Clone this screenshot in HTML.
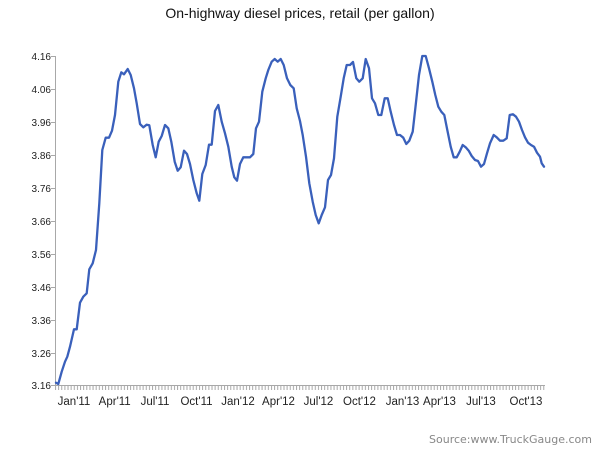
<!DOCTYPE html>
<html>
<head>
<meta charset="utf-8">
<style>
  html, body { margin: 0; padding: 0; background: #fff; }
  svg { display: block; }
</style>
</head>
<body>
<svg width="600" height="450" viewBox="0 0 600 450" xmlns="http://www.w3.org/2000/svg">
  <defs>
    <pattern id="ticks" x="55" y="0" width="3.13" height="450" patternUnits="userSpaceOnUse">
      <rect x="0" y="0" width="1" height="450" fill="#a8a8a8"/>
    </pattern>
  </defs>
  <rect x="0" y="0" width="600" height="450" fill="#fff"/>

  <text x="300" y="18" text-anchor="middle" font-family="Liberation Sans, Arial, sans-serif" font-size="14" fill="#111">On-highway diesel prices, retail (per gallon)</text>

  <!-- Y axis -->
  <line x1="55.5" y1="56" x2="55.5" y2="386" stroke="#a8a8a8" stroke-width="1"/>
  <g stroke="#a8a8a8" stroke-width="1">
    <line x1="51" y1="56.5" x2="55" y2="56.5"/>
    <line x1="51" y1="89.5" x2="55" y2="89.5"/>
    <line x1="51" y1="122.5" x2="55" y2="122.5"/>
    <line x1="51" y1="155.5" x2="55" y2="155.5"/>
    <line x1="51" y1="188.5" x2="55" y2="188.5"/>
    <line x1="51" y1="221.5" x2="55" y2="221.5"/>
    <line x1="51" y1="254.5" x2="55" y2="254.5"/>
    <line x1="51" y1="287.5" x2="55" y2="287.5"/>
    <line x1="51" y1="320.5" x2="55" y2="320.5"/>
    <line x1="51" y1="353.5" x2="55" y2="353.5"/>
    <line x1="51" y1="385.5" x2="55" y2="385.5"/>
  </g>
  <g font-family="Liberation Sans, Arial, sans-serif" font-size="10" fill="#222" text-anchor="end">
    <text x="51" y="60">4.16</text>
    <text x="51" y="93">4.06</text>
    <text x="51" y="126">3.96</text>
    <text x="51" y="159">3.86</text>
    <text x="51" y="192">3.76</text>
    <text x="51" y="225">3.66</text>
    <text x="51" y="258">3.56</text>
    <text x="51" y="291">3.46</text>
    <text x="51" y="324">3.36</text>
    <text x="51" y="357">3.26</text>
    <text x="51" y="389">3.16</text>
  </g>

  <!-- X axis -->
  <line x1="55" y1="385.5" x2="545" y2="385.5" stroke="#a8a8a8" stroke-width="1"/>
  <rect x="55" y="385" width="490" height="5" fill="url(#ticks)"/>
  <g font-family="Liberation Sans, Arial, sans-serif" font-size="11.5" fill="#222" text-anchor="middle">
    <text x="74" y="405">Jan'11</text>
    <text x="114.7" y="405">Apr'11</text>
    <text x="155" y="405">Jul'11</text>
    <text x="196.5" y="405">Oct'11</text>
    <text x="238" y="405">Jan'12</text>
    <text x="278.5" y="405">Apr'12</text>
    <text x="318.5" y="405">Jul'12</text>
    <text x="359.5" y="405">Oct'12</text>
    <text x="402.5" y="405">Jan'13</text>
    <text x="439.5" y="405">Apr'13</text>
    <text x="481" y="405">Jul'13</text>
    <text x="526" y="405">Oct'13</text>
  </g>

  <!-- Series -->
  <polyline fill="none" stroke="#3a60bb" stroke-width="2.3" stroke-linejoin="round" stroke-linecap="round"
    points="56,382.7 58.3,384 61.7,371.7 65,361.7 67.3,356.7 70,346.7 74,329.3 76.7,329.3 80,302.7 83.3,296.7 86.7,293.3 89.3,269.3 92.7,263.3 96,250 99.3,203.3 102.3,150 105.7,137.7 109,137.7 112,130.7 115,115 118.3,81.7 121.3,72.3 124,74.3 127.7,69 130.7,75 134,88.3 136.7,103.3 140,124 143.3,127.3 146.7,124.7 149.3,125.3 152.7,145 155.7,157.3 158.7,141.7 161.7,136 165,125 168.3,128.3 171.3,141.7 174.7,161.7 177.7,170.7 180.7,167.3 184,150.7 187,154 190,164 193.3,180 196.7,193.3 199.3,200.7 202.3,174 205.7,165 209,144.7 211.7,144.7 215,111 218.3,105 221.7,121.7 225,133.3 228.3,146.7 231.7,166.7 234.3,177.3 237,180.7 240,164 243.3,157.3 246.7,157.3 250,157.3 253.3,154 256,128.3 259,121.7 262.3,91.7 265.7,78.3 268.3,70 271.7,61.7 274.7,59 277.7,61.7 280.7,59 283.7,65 287,78.3 290.3,85 293.7,88.3 296.7,108.3 300,121 302.7,135 306,156.7 309.3,183.3 312.7,201.7 315.7,215 318.7,223.3 321.7,215 325,207.3 328,180 331,175 334,158.3 337.3,116.7 340.7,96.7 343.7,78.3 346.7,65 350,65 353,62 356.3,78.3 359.3,81.7 362.7,78.3 365.7,59 369,68.3 372,98.3 375,103.3 378.3,115 381.3,115 384.7,98.3 387.7,98.3 390.7,111.7 394,125 397,135 400,135 403.3,137.7 406.3,144 409.3,140.7 412.7,131.7 415.7,105 419,75 422.3,56 425.7,56 429,68.3 432.3,81.7 435.3,95 438.3,106.7 441.3,111.7 444.3,115 447.3,130 450.7,146.7 453.7,157.3 456.7,157.3 459.7,151.7 462.7,145 465.7,147.3 468.7,150.7 471.7,156 475,160 478,161 481,166.7 484,164 487,153.3 490,143.3 493.7,135 496.7,137.3 500,140.7 503.3,140.7 506.7,138.3 509.7,115 513,114.3 516,116.7 519,121.7 522,130 525,137.3 528,142.7 531,145 534,146.7 537,152.7 540,156.7 541.7,163.3 544,166.7"/>

  <text x="592" y="443" text-anchor="end" font-family="DejaVu Sans, Verdana, sans-serif" font-size="11" fill="#888">Source:www.TruckGauge.com</text>
</svg>
</body>
</html>
